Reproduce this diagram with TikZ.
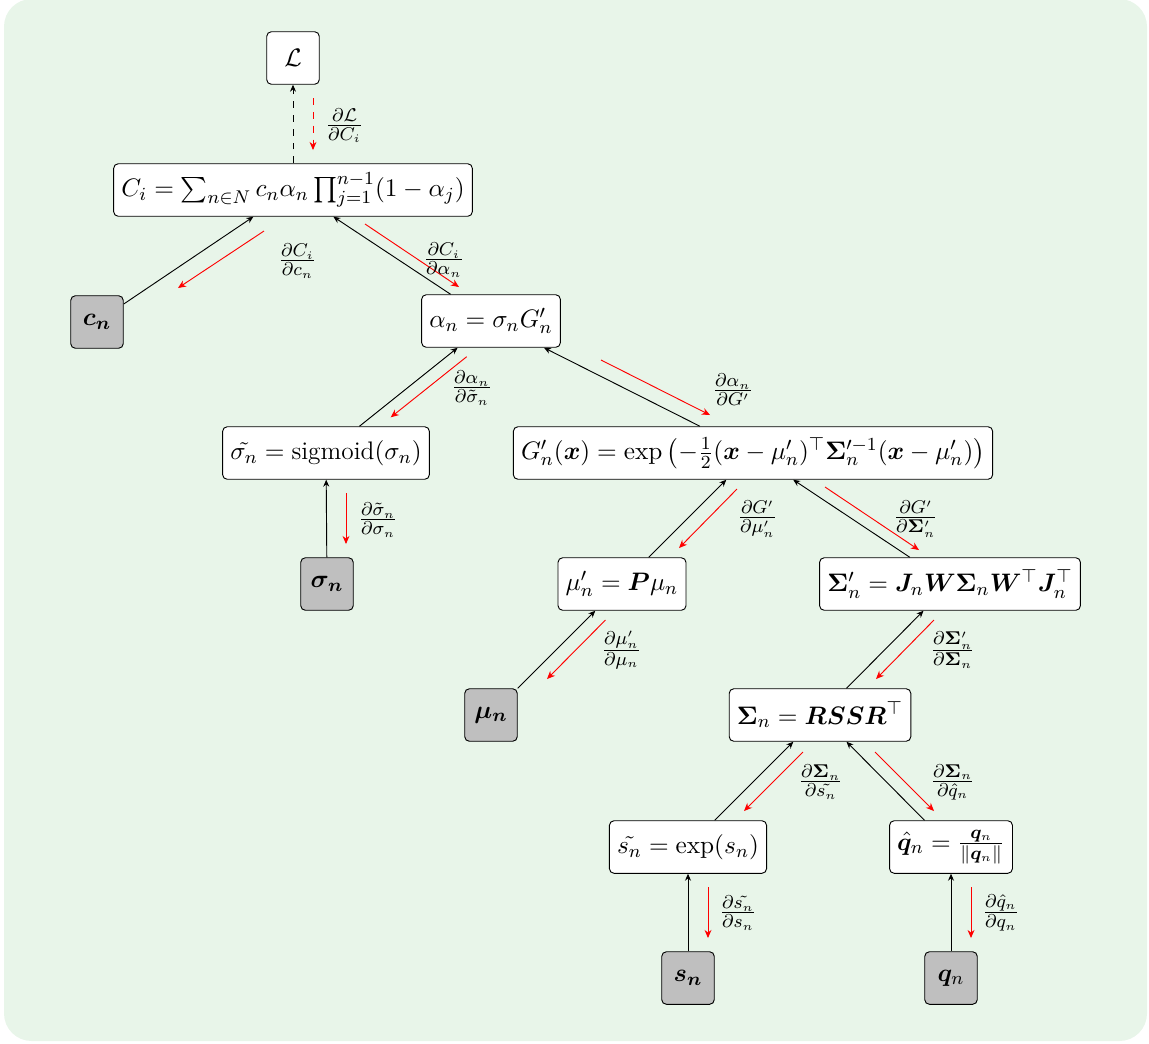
\documentclass[tikz,border=0pt]{standalone}
\usepackage{amsmath,amssymb,bm}
\usetikzlibrary{arrows.meta}
\definecolor{bggreen}{RGB}{232,245,233}
\tikzset{
  box/.style={draw=black, fill=white, rounded corners=2pt, minimum height=0.8cm, line width=0.4pt, font=\fontsize{11}{13}\selectfont},
  param/.style={draw=black, fill=gray!50, rounded corners=2pt, minimum size=0.8cm, line width=0.4pt, font=\fontsize{11}{13}\selectfont},
  fwd/.style={-{Stealth[length=3pt,width=2.6pt]}, black, line width=0.4pt},
  bwd/.style={-{Stealth[length=3.5pt,width=3pt]}, red, line width=0.4pt},
  glab/.style={anchor=west, inner sep=0pt, font=\fontsize{11}{13}\selectfont}
}
\begin{document}
\begin{tikzpicture}[x=0.015221cm, y=-0.015221cm]
\useasboundingbox (0,0) rectangle (1149,1043);
\fill[bggreen, rounded corners=0.42cm] (4,-1) rectangle (1147,1041);

% nodes
\node[box, minimum width=0.8cm] (L) at (293,58) {$\mathcal{L}$};
\node[box] (C) at (293,190) {$C_i = \sum_{n\in N} c_n\alpha_n \prod_{j=1}^{n-1}(1-\alpha_j)$};
\node[param] (cn) at (97,322) {$\boldsymbol{c_n}$};
\node[box] (al) at (491,321) {$\alpha_n = \sigma_n G'_n$};
\node[box] (sgt) at (326,453) {$\tilde{\sigma_n} = \text{sigmoid}(\sigma_n)$};
\node[box] (G) at (753,453) {$G'_n(\bm{x}) = \exp\left(-\frac{1}{2}(\bm{x}-\mu'_n)^\top \bm{\Sigma}'^{-1}_n(\bm{x}-\mu'_n)\right)$};
\node[param] (sg) at (327,584) {$\boldsymbol{\sigma_n}$};
\node[box] (mup) at (622,584) {$\mu'_n = \bm{P}\mu_n$};
\node[box] (Sp) at (950,584) {$\bm{\Sigma}'_n = \bm{J}_n\bm{W}\bm{\Sigma}_n\bm{W}^\top\bm{J}_n^\top$};
\node[param] (mu) at (491,715) {$\boldsymbol{\mu_n}$};
\node[box] (Sn) at (820,715) {$\bm{\Sigma}_n = \bm{RSSR}^\top$};
\node[box] (st) at (688,847) {$\tilde{s_n} = \exp(s_n)$};
\node[box] (qh) at (951,847) {$\hat{\bm{q}}_n = \frac{\bm{q}_n}{\|\bm{q}_n\|}$};
\node[param] (s) at (688,978) {$\boldsymbol{s_n}$};
\node[param] (q) at (951,978) {$\bm{q}_n$};

% forward connectors
\draw[fwd, dashed] (C) -- (L);
\draw[fwd] (cn) -- (C);
\draw[fwd] (al) -- (C);
\draw[fwd] (sgt) -- (al);
\draw[fwd] (G) -- (al);
\draw[fwd] (sg) -- (sgt);
\draw[fwd] (mup) -- (G);
\draw[fwd] (Sp) -- (G);
\draw[fwd] (mu) -- (mup);
\draw[fwd] (Sn) -- (Sp);
\draw[fwd] (st) -- (Sn);
\draw[fwd] (qh) -- (Sn);
\draw[fwd] (s) -- (st);
\draw[fwd] (q) -- (qh);

% backward (gradient) arrows
\draw[bwd, dashed] (313,98) -- (313,150);
\draw[bwd] (264,231) -- (178,288);
\draw[bwd] (365,224) -- (459,287);
\draw[bwd] (466.7,356.7) -- (390.7,417.3);
\draw[bwd] (601,360) -- (710,415);
\draw[bwd] (346,493) -- (346,544);
\draw[bwd] (737,489) -- (679,548);
\draw[bwd] (825,487) -- (919,550);
\draw[bwd] (605.5,620) -- (547,679);
\draw[bwd] (934,620) -- (876,679);
\draw[bwd] (803,752) -- (744,811);
\draw[bwd] (875,752) -- (934,811);
\draw[bwd] (708,887) -- (708,938);
\draw[bwd] (971,887) -- (971,938);

% gradient labels
\node[glab] (l1) at (325,126) {$\frac{\partial\mathcal{L}}{\partial C_i}$};
\node[glab] (l2) at (278,261) {$\frac{\partial C_i}{\partial c_n}$};
\node[glab] (l3) at (423,260) {$\frac{\partial C_i}{\partial\alpha_n}$};
\node[glab] (l4) at (451,388) {$\frac{\partial\alpha_n}{\partial\tilde\sigma_n}$};
\node[glab] (l5) at (712,390) {$\frac{\partial\alpha_n}{\partial G'}$};
\node[glab] (l6) at (358,520) {$\frac{\partial\tilde\sigma_n}{\partial\sigma_n}$};
\node[glab] (l7) at (737,519) {$\frac{\partial G'}{\partial\mu'_n}$};
\node[glab] (l8) at (893,519) {$\frac{\partial G'}{\partial\bm{\Sigma}'_n}$};
\node[glab] (l9) at (601,650) {$\frac{\partial\mu'_n}{\partial\mu_n}$};
\node[glab] (l10) at (930,650) {$\frac{\partial\bm{\Sigma}'_n}{\partial\bm{\Sigma}_n}$};
\node[glab] (l11) at (798,782) {$\frac{\partial\bm{\Sigma}_n}{\partial\tilde{s_n}}$};
\node[glab] (l12) at (930,782) {$\frac{\partial\bm{\Sigma}_n}{\partial\hat{q}_n}$};
\node[glab] (l13) at (719,913) {$\frac{\partial\tilde{s_n}}{\partial s_n}$};
\node[glab] (l14) at (982,913) {$\frac{\partial\hat{q}_n}{\partial q_n}$};
\end{tikzpicture}
\end{document}
